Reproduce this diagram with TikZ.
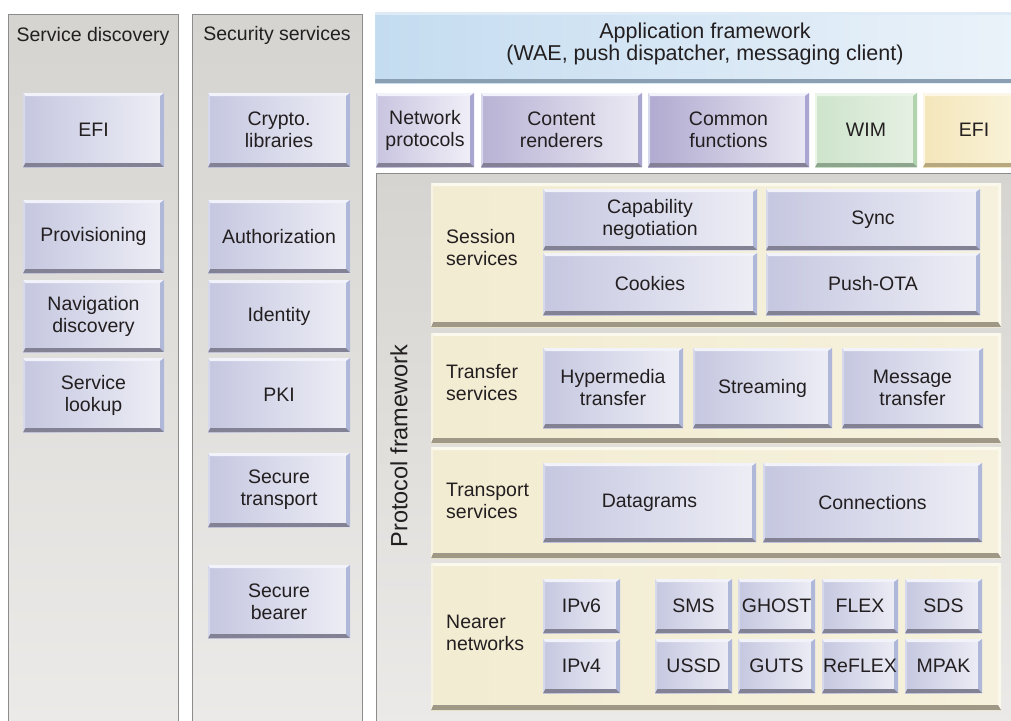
\documentclass[tikz,border=0pt]{standalone}
\usepackage{fontspec}
\setmainfont{Liberation Sans}
\definecolor{txt}{RGB}{35,31,32}
\definecolor{colA}{RGB}{214,212,208}
\definecolor{colB}{RGB}{236,235,233}
\definecolor{colborder}{RGB}{140,140,140}
\definecolor{lavL}{RGB}{197,199,224}
\definecolor{lavR}{RGB}{238,238,246}
\definecolor{lavT}{RGB}{242,242,250}
\definecolor{lavB}{RGB}{130,130,148}
\definecolor{lavLft}{RGB}{214,216,236}
\definecolor{lavRt}{RGB}{176,184,218}
\definecolor{beigeL}{RGB}{242,236,210}
\definecolor{beigeR}{RGB}{246,241,220}
\definecolor{beigeT}{RGB}{251,248,236}
\definecolor{beigeB}{RGB}{160,152,134}
\definecolor{beigeLft}{RGB}{247,243,228}
\definecolor{beigeRt}{RGB}{250,247,235}
\definecolor{appL}{RGB}{196,220,240}
\definecolor{appR}{RGB}{236,243,250}
\definecolor{appT}{RGB}{222,234,246}
\definecolor{appB}{RGB}{138,160,178}
\definecolor{npL}{RGB}{200,196,224}
\definecolor{npR}{RGB}{242,240,248}
\definecolor{crL}{RGB}{184,178,212}
\definecolor{crR}{RGB}{236,234,244}
\definecolor{cfL}{RGB}{176,170,208}
\definecolor{cfR}{RGB}{234,232,243}
\definecolor{purRt}{RGB}{170,166,210}
\definecolor{purB}{RGB}{132,128,150}
\definecolor{wimL}{RGB}{206,228,203}
\definecolor{wimR}{RGB}{230,241,228}
\definecolor{wimT}{RGB}{236,245,234}
\definecolor{wimB}{RGB}{140,165,140}
\definecolor{wimRt}{RGB}{176,212,173}
\definecolor{yelL}{RGB}{244,230,186}
\definecolor{yelR}{RGB}{250,244,220}
\definecolor{yelT}{RGB}{252,247,230}
\definecolor{yelB}{RGB}{184,168,128}
\definecolor{yelRt}{RGB}{236,222,170}
\newcommand\boxfont{\fontsize{19.5}{22}\selectfont}
\newcommand\appfont{\fontsize{21.5}{22}\selectfont}
\newcommand\pffont{\fontsize{23.5}{26}\selectfont}
\newcommand\bx[7][]{\node[bevelbox,#1,minimum width={#5-#3},minimum height={#6-#4}] (#2) at ({(#3+#5)/2},{(#4+#6)/2}) {#7};}
\tikzset{
  bevc/.code n args={4}{\def\bvT{#1}\def\bvB{#2}\def\bvL{#3}\def\bvR{#4}},
  bevw/.code n args={4}{\def\bwT{#1}\def\bwB{#2}\def\bwL{#3}\def\bwR{#4}},
  bevelbox/.style={inner sep=0pt, outer sep=0pt, align=center, font=\boxfont, text=txt,
    left color=lavL, right color=lavR, bevc={lavT}{lavB}{lavLft}{lavRt}, bevw={3pt}{4pt}{2pt}{4pt},
    path picture={
      \fill[fill=\bvT] (path picture bounding box.north west) -- (path picture bounding box.north east)
        -- ([shift={(-\bwR,-\bwT)}]path picture bounding box.north east)
        -- ([shift={(\bwL,-\bwT)}]path picture bounding box.north west) -- cycle;
      \fill[fill=\bvR] (path picture bounding box.north east) -- (path picture bounding box.south east)
        -- ([shift={(-\bwR,\bwB)}]path picture bounding box.south east)
        -- ([shift={(-\bwR,-\bwT)}]path picture bounding box.north east) -- cycle;
      \fill[fill=\bvB] (path picture bounding box.south west) -- (path picture bounding box.south east)
        -- ([shift={(-\bwR,\bwB)}]path picture bounding box.south east)
        -- ([shift={(\bwL,\bwB)}]path picture bounding box.south west) -- cycle;
      \fill[fill=\bvL] (path picture bounding box.north west) -- (path picture bounding box.south west)
        -- ([shift={(\bwL,\bwB)}]path picture bounding box.south west)
        -- ([shift={(\bwL,-\bwT)}]path picture bounding box.north west) -- cycle;
    }},
  panel/.style={left color=beigeL, right color=beigeR, bevc={beigeT}{beigeB}{beigeLft}{beigeRt}, bevw={3pt}{5pt}{2pt}{3pt}},
  app/.style={left color=appL, right color=appR, bevc={appT}{appB}{appT}{appT}, bevw={3pt}{4pt}{0pt}{0pt}},
  np/.style={left color=npL, right color=npR, bevc={lavT}{purB}{lavLft}{purRt}},
  cr/.style={left color=crL, right color=crR, bevc={lavT}{purB}{lavLft}{purRt}},
  cf/.style={left color=cfL, right color=cfR, bevc={lavT}{purB}{lavLft}{purRt}},
  wim/.style={left color=wimL, right color=wimR, bevc={wimT}{wimB}{wimT}{wimRt}},
  yel/.style={left color=yelL, right color=yelR, bevc={yelT}{yelB}{yelT}{yelRt}},
  colbox/.style={draw=colborder, line width=0.8pt, top color=colA, bottom color=colB, inner sep=0pt, outer sep=0pt, anchor=north west},
  ttl/.style={font=\boxfont, text=txt},
  lbl/.style={font=\boxfont, text=txt, anchor=west, align=left, inner sep=0pt},
}
\begin{document}
\begin{tikzpicture}[x=1pt,y=-1pt]
\useasboundingbox (0,0) rectangle (1011,720);
\clip (0,0) rectangle (1011,720);
\fill[white] (0,0) rectangle (1011,720);
% side columns
\node[colbox,minimum width=170pt,minimum height=740pt] (sdcol) at (8,14) {};
\node[colbox,minimum width=170pt,minimum height=740pt] (sscol) at (192,14) {};
\node[colbox,minimum width=670pt,minimum height=580pt] (pfcol) at (376,173) {};
\node[ttl] (sdttl) at (93,36) {Service discovery};
\node[ttl] (ssttl) at (277,35) {Security services};
% service discovery
\bx{efiA}{23}{93}{164}{167}{EFI}
\bx{prov}{23}{200}{164}{273}{Provisioning}
\bx{nav}{23}{280}{164}{352}{Navigation\\discovery}
\bx{look}{23}{358}{164}{432}{Service\\lookup}
% security services
\bx{crypto}{208}{93}{350}{167}{Crypto.\\libraries}
\bx{auth}{208}{200}{350}{273}{Authorization}
\bx{ident}{208}{280}{350}{352}{Identity}
\bx{pki}{208}{358}{350}{432}{PKI}
\bx{stran}{208}{453}{350}{527}{Secure\\transport}
\bx{sbear}{208}{565}{350}{638}{Secure\\bearer}
% application framework
\bx[app]{appbox}{375}{12}{1035}{83}{}
\node[font=\appfont,text=txt,align=center] (apptxt) at (705,44) {Application framework\\(WAE, push dispatcher, messaging client)};
\bx[np]{netp}{376}{93}{474}{167}{Network\\protocols}
\bx[cr]{cont}{481}{93}{642}{167}{Content\\renderers}
\bx[cf]{comm}{648}{93}{809}{167}{Common\\functions}
\bx[wim]{wimb}{815}{93}{917}{167}{WIM}
\bx[yel]{efiB}{923}{93}{1025}{167}{EFI}
% protocol framework
\node[rotate=90,font=\pffont,text=txt] (pftxt) at (399,446) {Protocol framework};
\bx[panel]{sess}{431}{183}{1001}{327}{}
\bx[panel]{trf}{431}{333}{1001}{443}{}
\bx[panel]{trp}{431}{447}{1001}{558}{}
\bx[panel]{near}{431}{563}{1001}{710}{}
\node[lbl] (sessl) at (446,248) {Session\\services};
\node[lbl] (trfl) at (446,383) {Transfer\\services};
\node[lbl] (trpl) at (446,501) {Transport\\services};
\node[lbl] (nearl) at (446,633) {Nearer\\networks};
\bx{cap}{543}{189}{757}{250}{Capability\\negotiation}
\bx{sync}{766}{189}{980}{250}{Sync}
\bx{cook}{543}{253}{757}{315}{Cookies}
\bx{push}{766}{253}{980}{315}{Push-OTA}
\bx{hyper}{543}{348}{683}{428}{Hypermedia\\transfer}
\bx{strm}{693}{348}{832}{428}{Streaming}
\bx{msg}{842}{348}{983}{428}{Message\\transfer}
\bx{dgram}{543}{463}{756}{542}{Datagrams}
\bx{conn}{763}{463}{982}{542}{Connections}
\bx{ipsix}{543}{579}{620}{633}{IPv6}
\bx{ipfour}{543}{639}{620}{693}{IPv4}
\bx{sms}{655}{579}{732}{633}{SMS}
\bx{ghost}{738}{579}{815}{633}{GHOST}
\bx{flex}{822}{579}{898}{633}{FLEX}
\bx{sds}{905}{579}{982}{633}{SDS}
\bx{ussd}{655}{639}{732}{693}{USSD}
\bx{guts}{738}{639}{815}{693}{GUTS}
\bx{reflex}{822}{639}{898}{693}{ReFLEX}
\bx{mpak}{905}{639}{982}{693}{MPAK}
\end{tikzpicture}
\end{document}
